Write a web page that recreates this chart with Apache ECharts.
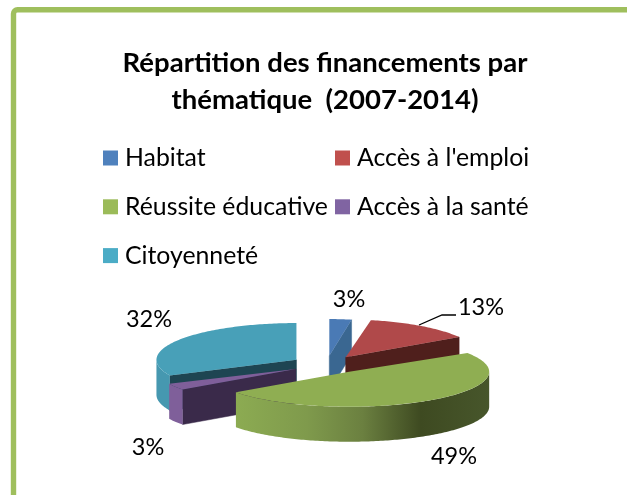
<!DOCTYPE html>
<html><head><meta charset="utf-8">
<style>html,body{margin:0;padding:0;background:#fff}#c{width:627px;height:495px}</style>
<script src="https://cdn.jsdelivr.net/npm/echarts@6/dist/echarts.min.js"></script>
</head><body><div id="c"></div>
<script>
const categories = ["Habitat", "Accès à l'emploi", "Réussite éducative", "Accès à la santé", "Citoyenneté"];
const values = [3, 13, 49, 3, 32];
const titleLines = "Répartition des financements par\nthématique  (2007-2014)";

const legendColors = ['#4F81BD', '#C0504D', '#9BBB59', '#8064A2', '#4BACC6'];
const topColors = ['#4A7AB5', '#B0494A', '#8FAE52', '#7F5F9A', '#48A0B8'];
const cutColors = ['#3A6791', '#4F1F1C', '#3E4A20', '#3A2A4A', '#1E4552'];
const rimColors = ['#3A6791', '#4F1F1C', null, '#7F5F9A', '#4698B0'];
const greenRim = [[0,'#8CAB52'],[0.28,'#7F9A4C'],[0.5,'#6B8040'],[0.73,'#3E4A21'],[1,'#47562B']];
const drawOrder = [4, 0, 1, 3, 2];
const pie = {cx: 326, cy: 364.5, rx: 140, ry: 35, depth: 35, explode: 35};
const rxScale = [0.85, 0.96, 1, 1, 1];
const ryScale = [1.05, 1.08, 1, 1, 1.05];
const xNudge = [0, 0, 3.5, 0, 0];
const labelAt = [[349, 299], [481, 307], [454, 456], [148, 447], [149, 319]];
const leader = {from: 1, pts: [[419, 325], [442, 315], [456, 315]]};
const FONT = 'Lato';

const total = values.reduce((a, b) => a + b, 0);
const starts = [];
values.reduce((acc, v, i) => { starts[i] = acc; return acc + v; }, 0);

function dir(deg) {
  const r = deg * Math.PI / 180;
  return [Math.sin(r), -Math.cos(r)];
}
function renderSlice(idx) {
  const a1 = starts[idx] / total * 360;
  const a2 = (starts[idx] + values[idx]) / total * 360;
  const m = dir((a1 + a2) / 2);
  const ax = pie.cx + pie.explode * m[0] + xNudge[idx];
  const ay = pie.cy + pie.explode * m[1] * pie.ry / pie.rx;
  const pt = (deg) => { const d = dir(deg); return [ax + pie.rx * rxScale[idx] * d[0], ay + pie.ry * ryScale[idx] * d[1]]; };
  const down = (p) => [p[0], p[1] + pie.depth];
  const children = [];
  const midv = [m[0], m[1] * pie.ry / pie.rx];
  [a1, a2].forEach((a) => {
    const d = dir(a);
    const v = [d[0], d[1] * pie.ry / pie.rx];
    const cross = v[0] * midv[1] - v[1] * midv[0];
    if (cross * v[0] < 0) {
      const p = pt(a);
      children.push({type: 'polygon', shape: {points: [[ax, ay], p, down(p), [ax, ay + pie.depth]]},
        style: {fill: cutColors[idx], stroke: cutColors[idx], lineWidth: 0.5}});
    }
  });
  const r1 = Math.max(a1, 90), r2 = Math.min(a2, 270);
  if (r2 > r1) {
    const arc = [];
    for (let a = r1; a < r2; a += 1) arc.push(pt(a));
    arc.push(pt(r2));
    const pts = arc.concat(arc.slice().reverse().map(down));
    const fill = rimColors[idx] || {type: 'linear', x: 0, y: 0, x2: 1, y2: 0,
      colorStops: greenRim.map(s => ({offset: s[0], color: s[1]}))};
    children.push({type: 'polygon', shape: {points: pts}, style: {fill: fill}});
  }
  const top = [[ax, ay]];
  for (let a = a1; a < a2; a += 1) top.push(pt(a));
  top.push(pt(a2));
  children.push({type: 'polygon', shape: {points: top}, style: {fill: topColors[idx]}});
  if (leader.from === idx) {
    children.push({type: 'polyline', shape: {points: leader.pts}, style: {fill: null, stroke: '#000', lineWidth: 1.3}});
  }
  children.push({type: 'text', x: labelAt[idx][0], y: labelAt[idx][1], style: {
    text: values[idx] + '%', fontFamily: FONT, fontSize: 23.5, fill: '#000', align: 'center', verticalAlign: 'middle'}});
  return {type: 'group', children: children};
}

const series = drawOrder.map((idx) => ({
  type: 'custom', name: categories[idx], coordinateSystem: 'none',
  data: [[values[idx]]], itemStyle: {color: legendColors[idx]},
  silent: true, animation: false, clip: false,
  renderItem: () => renderSlice(idx)
}));

const legendBase = {orient: 'vertical', icon: 'rect', itemWidth: 15, itemHeight: 15, itemGap: 23.8, padding: 0,
  selectedMode: false, textStyle: {fontFamily: FONT, fontSize: 24.8, color: '#000', padding: [0, 0, 0, 2]}};

const chart = echarts.init(document.getElementById('c'), null, {renderer: 'canvas'});
chart.setOption({
  backgroundColor: '#fff',
  animation: false,
  title: {text: titleLines, left: 320, top: 39.5, textAlign: 'center',
    textStyle: {fontFamily: FONT, fontSize: 27.5, fontWeight: 'bold', color: '#000', lineHeight: 37}},
  legend: [
    Object.assign({}, legendBase, {left: 103, top: 145.5, data: [categories[0], categories[2], categories[4]]}),
    Object.assign({}, legendBase, {left: 335, top: 145.5, data: [categories[1], categories[3]]})
  ],
  graphic: [
    {type: 'rect', shape: {x: 13.5, y: 9.8, width: 700, height: 600, r: 4}, style: {fill: null, stroke: '#9FBF5D', lineWidth: 5.4}}
  ],
  series: series
});
</script></body></html>
